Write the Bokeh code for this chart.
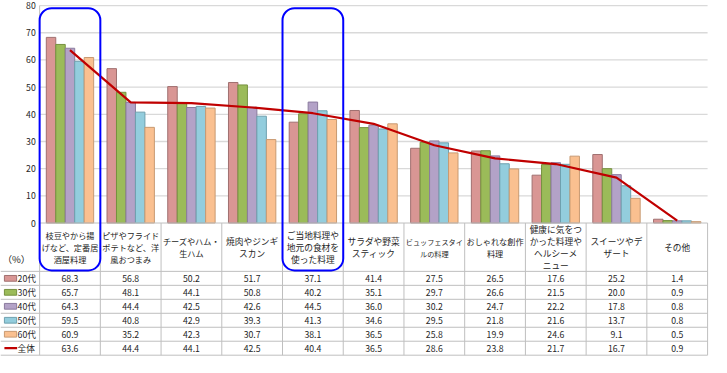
from bokeh.plotting import figure
from bokeh.models import Range1d, ColumnDataSource, BoxAnnotation
from bokeh.core.properties import value
from bokeh.embed import file_html
from bokeh.resources import INLINE

# ---------------- data ----------------
categories = [
    "枝豆やから揚\nげなど、定番居\n酒屋料理",
    "ピザやフライド\nポテトなど、洋\n風おつまみ",
    "チーズやハム・\n生ハム",
    "焼肉やジンギ\nスカン",
    "ご当地料理や\n地元の食材を\n使った料理",
    "サラダや野菜\nスティック",
    "ビュッフェスタイ\nルの料理",
    "おしゃれな創作\n料理",
    "健康に気をつ\nかった料理や\nヘルシーメ\nニュー",
    "スイーツやデ\nザート",
    "その他",
]
series_names = ["20代", "30代", "40代", "50代", "60代"]
v20 = [68.3, 56.8, 50.2, 51.7, 37.1, 41.4, 27.5, 26.5, 17.6, 25.2, 1.4]
v30 = [65.7, 48.1, 44.1, 50.8, 40.2, 35.1, 29.7, 26.6, 21.5, 20.0, 0.9]
v40 = [64.3, 44.4, 42.5, 42.6, 44.5, 36.0, 30.2, 24.7, 22.2, 17.8, 0.8]
v50 = [59.5, 40.8, 42.9, 39.3, 41.3, 34.6, 29.5, 21.8, 21.6, 13.7, 0.8]
v60 = [60.9, 35.2, 42.3, 30.7, 38.1, 36.5, 25.8, 19.9, 24.6, 9.1, 0.5]
total_name = "全体"
total = [63.6, 44.4, 44.1, 42.5, 40.4, 36.5, 28.6, 23.8, 21.7, 16.7, 0.9]
y_ticks = [0, 10, 20, 30, 40, 50, 60, 70, 80]
y_unit_label = "（%）"
highlighted = [0, 4]

series_values = [v20, v30, v40, v50, v60]

# ---------------- styles ----------------
fills = ["#D99694", "#9BBB59", "#B3A2C7", "#93CDDD", "#FAC090"]
outlines = ["#A07070", "#76913F", "#8B7B9E", "#6FA0AE", "#C89A72"]
line_red = "#C00000"
grid_col = "#D9D9D9"
table_col = "#BFBFBF"
txt_col = "#262626"
FONT = value("Noto Sans CJK JP")

# ---------------- geometry (reference px -> data) ----------------
REF_W, REF_H = 727, 373
W, H = 711, 357
SX, SY = W / REF_W, H / REF_H
CAT_LEFT, CAT_W = 40.0, 62.09
Y0, PPU = 232.5, 2.84
HDR_BOTTOM, ROW_H = 283.0, 14.6
HDR_MID, HDR_LINE = 258.5, 12.5


def dx(xr):
    return (xr - CAT_LEFT) / CAT_W


def dy(yr):
    return (Y0 - yr) / PPU


ncat = len(categories)
FS = 9.0 * (SX + SY) / 2
fs = f"{FS:.2f}px"

p = figure(width=W, height=H, output_backend="svg", toolbar_location=None,
           x_range=Range1d(dx(0), dx(REF_W)), y_range=Range1d(dy(REF_H), dy(0)),
           x_axis_type=None, y_axis_type=None, min_border=0,
           outline_line_color=None, background_fill_color="white")
p.xgrid.visible = False
p.ygrid.visible = False

# gridlines
gt = [t for t in y_ticks if t > 0]
p.segment(x0=[0] * len(gt), x1=[ncat] * len(gt), y0=gt, y1=gt,
          line_color=grid_col, line_width=1.3)
# y axis line
p.segment(x0=[0], x1=[0], y0=[y_ticks[-1]], y1=[0], line_color=table_col, line_width=1)

# y tick labels
p.text(x=[dx(36)] * len(y_ticks), y=y_ticks, text=[str(t) for t in y_ticks],
       text_font=FONT, text_font_size=fs, text_align="right",
       text_baseline="middle", text_color=txt_col)

# bars
nser = len(series_values)
bw = 0.156
for j, (vals, name) in enumerate(zip(series_values, series_names)):
    xs = [i + 0.5 + (j - (nser - 1) / 2) * bw for i in range(ncat)]
    p.vbar(x=xs, top=vals, bottom=0, width=bw, fill_color=fills[j],
           line_color=outlines[j], line_width=1)

# total line
centers = [i + 0.5 for i in range(ncat)]
p.line(x=centers, y=total, line_color=line_red, line_width=2.2)

# table lines
nrows = nser + 1
row_edges = [dy(HDR_BOTTOM + ROW_H * k) for k in range(nrows + 1)]
p.segment(x0=[dx(0)] * len(row_edges), x1=[ncat] * len(row_edges),
          y0=row_edges, y1=row_edges, line_color=table_col, line_width=1)
p.segment(x0=list(range(ncat + 1)), x1=list(range(ncat + 1)),
          y0=[0] * (ncat + 1), y1=[row_edges[-1]] * (ncat + 1),
          line_color=table_col, line_width=1)
# x axis line
p.segment(x0=[0], x1=[ncat], y0=[0], y1=[0], line_color=table_col, line_width=1)

# header labels (one text per line)
hx, hy, ht, hf = [], [], [], []
for i, lab in enumerate(categories):
    lines = lab.split("\n")
    n = len(lines)
    size = f"{min(FS, 58.5 * SX / max(len(l) for l in lines)):.2f}px"
    for k, line in enumerate(lines):
        hx.append(centers[i])
        hy.append(dy(HDR_MID + (k - (n - 1) / 2) * HDR_LINE))
        ht.append(line)
        hf.append(size)
hsrc = ColumnDataSource(dict(x=hx, y=hy, text=ht, fs=hf))
p.text(x="x", y="y", text="text", text_font_size="fs", source=hsrc, text_font=FONT,
       text_align="center", text_baseline="middle", text_color=txt_col)

# table values
all_rows = series_values + [total]
row_names = series_names + [total_name]
tx, ty, tt = [], [], []
for r, vals in enumerate(all_rows):
    yc = dy(HDR_BOTTOM + ROW_H * (r + 0.5))
    for i, v in enumerate(vals):
        tx.append(i + 0.5)
        ty.append(yc)
        tt.append(f"{v:.1f}")
p.text(x=tx, y=ty, text=tt, text_font=FONT, text_font_size=fs, text_align="center",
       text_baseline="middle", text_color=txt_col)

# row legend keys + labels
ycs = [dy(HDR_BOTTOM + ROW_H * (r + 0.5)) for r in range(nrows)]
kh = 3.0 / PPU
p.quad(left=[dx(4)] * nser, right=[dx(16.5)] * nser,
       top=[y + kh for y in ycs[:nser]], bottom=[y - kh for y in ycs[:nser]],
       fill_color=fills, line_color=outlines, line_width=1)
p.segment(x0=[dx(4)], x1=[dx(17)], y0=[ycs[-1]], y1=[ycs[-1]],
          line_color=line_red, line_width=2.2)
p.text(x=[dx(17.5)] * nrows, y=ycs, text=row_names, text_font=FONT,
       text_font_size=fs, text_align="left", text_baseline="middle",
       text_color=txt_col)

# unit label
p.text(x=[dx(2)], y=[dy(270)], text=[y_unit_label], text_font=FONT,
       text_font_size=f"{FS * 1.1:.2f}px", text_align="left",
       text_baseline="middle", text_color=txt_col)

# highlight boxes
for h in highlighted:
    p.add_layout(BoxAnnotation(left=h, right=h + 1, top=dy(8), bottom=dy(282),
                               fill_alpha=0, line_color="#0000FF", line_alpha=1.0,
                               line_width=2, border_radius=12))

open("out.html", "w").write(file_html(p, INLINE))
